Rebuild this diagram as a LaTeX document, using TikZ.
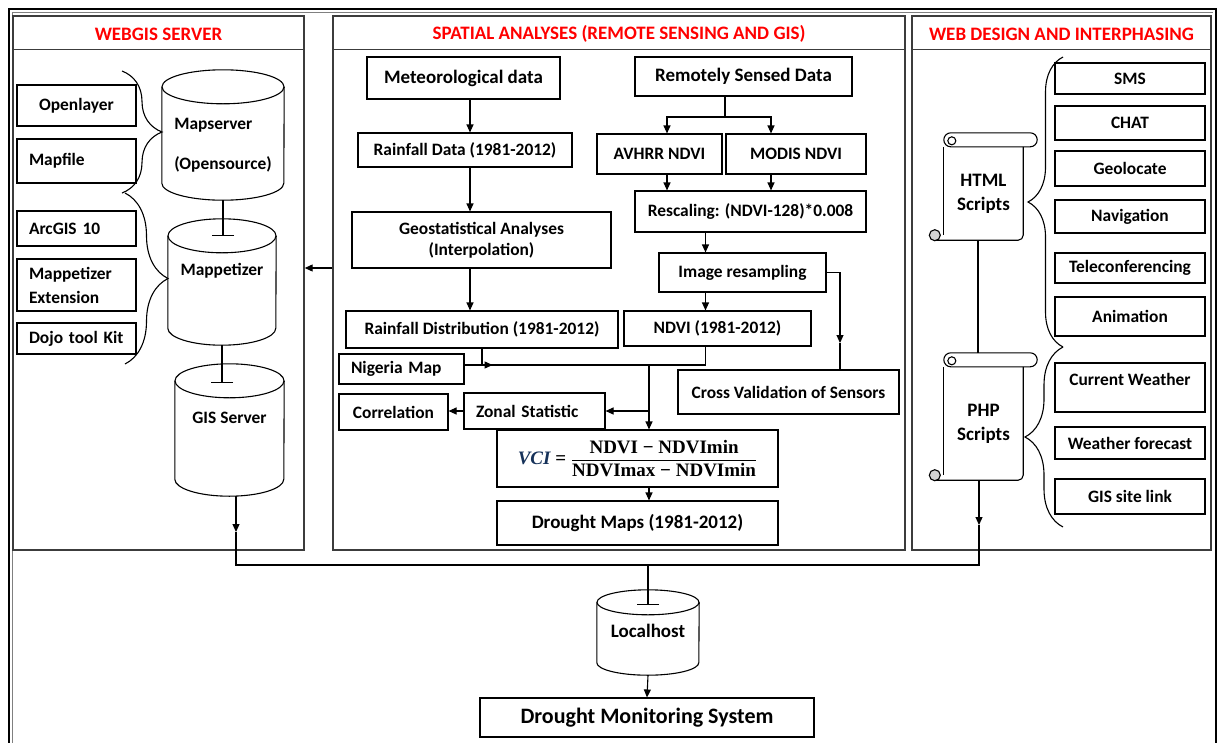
\documentclass[tikz,border=0pt]{standalone}
\usepackage{amsmath}
\usepackage[no-math]{fontspec}
\setmainfont{Carlito}
\newfontfamily\vcifont{Liberation Serif}
\usetikzlibrary{positioning,calc,arrows.meta,shapes.geometric,decorations.pathreplacing}

\definecolor{headred}{RGB}{255,0,0}
\definecolor{panelgray}{RGB}{60,60,60}
\definecolor{vciblue}{RGB}{22,50,90}

\newcommand\nodefont{\bfseries\fontsize{17.4}{20}\selectfont}
\newcommand\largerfont{\bfseries\fontsize{19}{22}\selectfont}
\newcommand\headfont{\bfseries\fontsize{19}{22}\selectfont}
\newcommand\dmsfont{\bfseries\fontsize{22}{26}\selectfont}

\tikzset{
  box/.style 2 args={draw, line width=1.1pt, inner sep=0pt, font=\nodefont, align=center,
    minimum width=#1pt, minimum height=#2pt},
  lbox/.style={align=left, inner xsep=12pt, text width=#1},
  txt/.style={inner sep=0pt, font=\nodefont, align=center},
  dbnode/.style 2 args={inner sep=0pt, minimum width=#1pt, minimum height=#2pt},
  panel/.style={draw=panelgray, line width=1.4pt, inner sep=0pt},
  head/.style={text=headred, font=\headfont},
  brc/.style={decorate, decoration={brace, amplitude=#1}, line width=1.1pt},
  tbar/.style={-{Bar[width=22pt,line width=1.1pt]}, line width=1.1pt},
  line/.style={line width=1.1pt},
  >={Triangle[length=8pt,width=7pt]},
}

% scroll drawn round a node
\newcommand\scrollpaper[1]{%
  \draw[line width=1.1pt, rounded corners=7pt] ($(#1.north west)+(0,-14)$) rectangle ($(#1.north east)+(14,0)$);
  \draw[line width=1.1pt, fill=white] ($(#1.north west)+(8,-6)$) circle (4pt);
  \draw[line width=1.1pt] (#1.north west) -- ($(#1.south west)+(0,-5)$);
  \draw[line width=1.1pt, rounded corners=5pt] (#1.north east) -- (#1.south east) -- ($(#1.south west)+(-9,0)$);
  \draw[line width=1.1pt, fill=gray!35] ($(#1.south west)+(-9,-5)$) circle (5.5pt);
}
% cylinder drawn round a node: name, half width, ellipse radius
\newcommand\dbshape[3]{%
  \draw[line width=1.1pt] ($(#1.north west)+(0,#3)$) -- ($(#1.south west)+(0,-#3)$)
    arc[start angle=180, end angle=360, x radius=#2pt, y radius=#3pt] -- ($(#1.north east)+(0,#3)$);
  \draw[line width=1.1pt] ($(#1.north)+(0,#3)$) ellipse [x radius=#2pt, y radius=#3pt];
}

\begin{document}
\begin{tikzpicture}[x=1pt,y=-1pt]
  \useasboundingbox (0,0) rectangle (1218,742);

  % outer frame
  \draw[line width=2.6pt] (9,760) -- (9,9) -- (1216,9) -- (1216,760);
  \draw[line width=0.6pt, gray] (12.5,760) -- (12.5,12.5) -- (1212.5,12.5);

  % the three panels
  \node[panel, minimum width=291pt, minimum height=534pt] (webgis) at (158.5,283) {};
  \node[panel, minimum width=572pt, minimum height=534pt] (spatial) at (619,283) {};
  \node[panel, minimum width=299pt, minimum height=534pt] (webdesign) at (1061.5,283) {};
  \foreach \p in {webgis,spatial,webdesign}
    \draw[panel] ($(\p.north west)+(0,34)$) -- ($(\p.north east)+(0,34)$);
  \node[head] (webgistitle) at ($(webgis.north)+(0,19)$) {WEBGIS SERVER};
  \node[head] (spatialtitle) at ($(spatial.north)+(0,19)$) {SPATIAL ANALYSES (REMOTE SENSING AND GIS)};
  \node[head] (webdesigntitle) at ($(webdesign.north)+(0,19)$) {WEB DESIGN AND INTERPHASING};

  % webgis server
  \node[box={119}{41}] (openlayer) at (76.5,105.5) {Openlayer};
  \node[box={119}{44}, lbox=95pt] (mapfile) at (76.5,161) {Mapfile};
  \node[box={119}{35}, lbox=95pt] (arcgis) at (76.5,228.5) {ArcGIS 10};
  \node[box={119}{52}, lbox=95pt] (mappext) at (76.5,285) {Mappetizer\\[4pt]Extension};
  \node[box={119}{31}, lbox=95pt] (dojo) at (76.5,338.5) {Dojo tool Kit};

  \node[dbnode={122}{130}] (mapserver) at (223,135) {};
  \node[dbnode={108}{126}] (mappetizer) at (222,282) {};
  \node[dbnode={109}{132}] (gis) at (229.5,430) {};
  \dbshape{mapserver}{61}{17}
  \dbshape{mappetizer}{54}{17}
  \dbshape{gis}{54.5}{17}
  \node[txt, align=left] (mapservertext) at (223,145) {Mapserver\\[20pt](Opensource)};
  \node[txt] (mappetizertext) at (222,271) {Mappetizer};
  \node[txt] (gistext) at (229.5,418) {GIS Server};

  \draw[brc=40pt] (122,71) -- (122,193);
  \draw[brc=43pt] (125,193) -- (125,364);
  \draw[tbar] (mapserver.south) -- ($(mapserver.south |- mappetizer.north)+(0,17)$);
  \draw[tbar] (mappetizer.south) -- ($(mappetizer.south |- gis.north)+(0,19)$);

  % spatial analyses
  \node[box={193}{42}, font=\largerfont] (met) at (463.5,78) {Meteorological data};
  \node[box={217}{39}, font=\largerfont] (rsd) at (743.5,76.5) {Remotely Sensed Data};
  \node[box={214}{34}] (rain) at (465,150) {Rainfall Data (1981-2012)};
  \node[box={259}{56}] (geo) at (481.5,240) {Geostatistical Analyses\\[1pt](Interpolation)};
  \node[box={125}{40}] (avhrr) at (659.5,154) {AVHRR NDVI};
  \node[box={140}{40}] (modis) at (796,154) {MODIS NDVI};
  \node[box={231}{41}] (rescale) at (750.5,211.5) {Rescaling: (NDVI-128)*0.008};
  \node[box={167}{39}] (resample) at (742.5,272.5) {Image resampling};
  \node[box={272}{37}] (raindist) at (482,329.5) {Rainfall Distribution (1981-2012)};
  \node[box={187}{35}] (ndvi) at (717.5,328.5) {NDVI (1981-2012)};
  \node[box={125}{30}, lbox=101pt] (nigeria) at (401.5,369) {Nigeria Map};
  \node[box={221}{44}] (crossval) at (788.5,392) {Cross Validation of Sensors};
  \node[box={109}{36}] (correl) at (393.5,412) {Correlation};
  \node[box={141}{36}, lbox=117pt] (zonal) at (534.5,411) {Zonal Statistic};
  \node[box={281}{57}, font=\vcifont\bfseries\fontsize{19}{22}\selectfont] (vci) at (637.5,458.5)
    {$\displaystyle\mbox{\itshape\color{vciblue}VCI}\mathrel{\mbox{=}}
      \frac{\mbox{NDVI − NDVImin}}{\mbox{NDVImax − NDVImin}}$};
  \node[box={281}{44}, font=\largerfont] (dmaps) at (637.5,523) {Drought Maps (1981-2012)};

  \coordinate (lc) at (470,0);
  \coordinate (ax) at (667,0);
  \coordinate (mx) at (771,0);
  \coordinate (nx) at (705.5,0);
  \coordinate (sp) at (725,117);
  \coordinate (cv) at (840,343);
  \coordinate (jn) at (649,365);

  \draw[line,->] (met.south -| lc) -- (rain.north -| lc);
  \draw[line,->] (rain.south -| lc) -- (geo.north -| lc);
  \draw[line,->] (geo.south -| lc) -- (raindist.north -| lc);
  \draw[line] (rsd.south -| sp) -- (sp);
  \draw[line,->] (sp) -| (avhrr.north -| ax);
  \draw[line,->] (sp) -| (modis.north -| mx);
  \draw[line,->] (avhrr.south -| ax) -- (rescale.north -| ax);
  \draw[line,->] (modis.south -| mx) -- (rescale.north -| mx);
  \draw[line,->] (rescale.south -| nx) -- (resample.north -| nx);
  \draw[line,->] (resample.south -| nx) -- (ndvi.north -| nx);
  \draw[line,->] (resample.east) -| (cv);
  \draw[line] (cv) -- (crossval.north -| cv);
  \draw[line] (raindist.south) -- (raindist.south |- jn);
  \draw[line] (nigeria.east |- jn) -| (ndvi.south -| nx);
  \draw[line,->] (nigeria.east |- jn) -- ++(28,0);
  \draw[line,->] (jn) -- (vci.north -| jn);
  \draw[line,->] (zonal.east -| jn) -- (zonal.east);
  \draw[line,->] (zonal.west) -- (zonal.west -| correl.east);
  \draw[line,->] (vci.south -| jn) -- (dmaps.north -| jn);

  \coordinate (ly) at (0,268);
  \draw[line,->] (spatial.west |- ly) -- (webgis.east |- ly);

  % web design and interphasing
  \node[box={150}{31}] (sms) at (1130,78.5) {SMS};
  \node[box={150}{34}] (chat) at (1130,123) {CHAT};
  \node[box={150}{35}] (geoloc) at (1130,168.5) {Geolocate};
  \node[box={150}{33}] (navig) at (1130,216.5) {Navigation};
  \node[box={150}{30}] (telec) at (1130,268) {Teleconferencing};
  \node[box={150}{39}] (anim) at (1130,316.5) {Animation};
  \node[box={150}{49}, text depth=16.5pt] (curw) at (1130,387.5) {Current Weather};
  \node[box={150}{32}] (wfore) at (1130,443) {Weather forecast};
  \node[box={150}{35}] (gislink) at (1130,496.5) {GIS site link};

  \node[txt, font=\largerfont, minimum width=79pt, minimum height=93pt] (html) at (983.5,193.5) {HTML\\[2pt]Scripts};
  \node[txt, font=\largerfont, minimum width=79pt, minimum height=113pt] (php) at (983.5,423.5) {PHP\\[2pt]Scripts};
  \scrollpaper{html}
  \scrollpaper{php}
  \draw[brc=35pt] (1063,347) -- (1063,57);
  \draw[brc=38pt] (1063,527) -- (1063,347);

  \coordinate (hx) at (978,0);
  \draw[line] (html.south -| hx) -- ($(php.north -| hx)+(0,-14)$);

  % joining to localhost
  \node[dbnode={102}{85}] (localhost) at (648,632.5) {};
  \dbshape{localhost}{51}{12.5}
  \node[txt, font=\largerfont] (localhosttext) at (648,631) {Localhost};
  \node[box={334}{39}, font=\dmsfont] (dms) at (647,717.5) {Drought Monitoring System};

  \coordinate (ga) at (236,532);
  \coordinate (pa) at (979,525);
  \coordinate (bl) at (236,565);
  \coordinate (br) at (979,565);
  \draw[line,->] (gis.south -| ga) -- (ga);
  \draw[line,->] (php.south -| pa) -- (pa);
  \draw[line] (ga) -- (bl) -- (br) -- (pa);
  \draw[tbar] (bl -| localhost.north) -- ($(localhost.north)+(0,15)$);
  \draw[line,->] (localhost.south) -- (dms.north);
\end{tikzpicture}
\end{document}
